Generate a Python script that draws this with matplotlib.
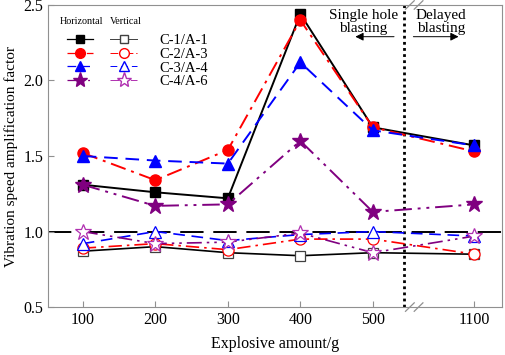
import numpy as np
import matplotlib
matplotlib.use("Agg")
import matplotlib.pyplot as plt
from matplotlib.lines import Line2D

plt.rcParams['font.family'] = ['Liberation Serif', 'DejaVu Serif']

amounts = ['100', '200', '300', '400', '500', '1100']
xpos = np.array([0, 1, 2, 3, 4, 5.4])   # 1100 sits past the axis break
x_break = 4.43

names = ['C-1/A-1', 'C-2/A-3', 'C-3/A-4', 'C-4/A-6']

# horizontal (filled markers)
h_c1 = [1.31, 1.26, 1.22, 2.44, 1.69, 1.57]
h_c2 = [1.52, 1.34, 1.54, 2.40, 1.69, 1.53]
h_c3 = [1.50, 1.47, 1.45, 2.12, 1.67, 1.57]
h_c4 = [1.31, 1.17, 1.18, 1.60, 1.13, 1.18]
# vertical (open markers)
v_c1 = [0.87, 0.90, 0.86, 0.84, 0.86, 0.85]
v_c2 = [0.89, 0.92, 0.88, 0.95, 0.95, 0.85]
v_c3 = [0.92, 1.00, 0.94, 0.98, 1.00, 0.97]
v_c4 = [1.00, 0.92, 0.93, 0.99, 0.86, 0.97]

colors = ['black', 'red', 'blue', '#800080']
open_colors = ['#404040', 'red', 'blue', '#b030b0']
styles = ['-', (0, (8, 3, 1.5, 3)), (0, (7, 4)), (0, (9, 3, 1.5, 3, 1.5, 3))]
markers = ['s', 'o', '^', '*']
msize = [7, 8, 8, 12]

fig = plt.figure(figsize=(5.05, 3.55), dpi=100)
ax = fig.add_axes([0.095, 0.135, 0.899, 0.851])

# reference line at 1.0
ax.axhline(1.0, xmax=1.01, color='black', lw=1.4, ls=(0, (12, 5)), zorder=1, clip_on=False)

h_handles = []
v_handles = []
for i, (hv, vv) in enumerate(zip([h_c1, h_c2, h_c3, h_c4], [v_c1, v_c2, v_c3, v_c4])):
    ax.plot(xpos, vv, color=colors[i], ls=styles[i], lw=1.2, marker=markers[i],
            ms=msize[i], mfc='white', mec=open_colors[i], mew=0.9, zorder=3)
    ax.plot(xpos, hv, color=colors[i], ls=styles[i], lw=1.4, marker=markers[i],
            ms=msize[i], mfc=colors[i], mec=colors[i], zorder=4)
    h_handles.append(Line2D([], [], color=colors[i], ls=styles[i], lw=0.9,
                            marker=markers[i], ms=msize[i] - 1, mfc=colors[i], mec=colors[i]))
    v_handles.append(Line2D([], [], color=open_colors[i], ls=styles[i], lw=0.7,
                            marker=markers[i], ms=msize[i] - 1, mfc='white', mec=open_colors[i]))

# dotted divider at the break
ax.axvline(x_break, color='black', lw=2, ls=(0, (1, 1.2)), zorder=2)

ax.set_xlim(-0.48, 5.78)
ax.set_ylim(0.5, 2.5)
ax.set_xticks(xpos)
ax.set_xticklabels(amounts)
ax.set_yticks([0.5, 1.0, 1.5, 2.0, 2.5])
ax.set_yticklabels(['0.5', '1.0', '1.5', '2.0', '2.5'])
ax.tick_params(direction='in', length=4, color='#909090', labelsize=11.5, top=False, right=False)
for s in ax.spines.values():
    s.set_color('#909090')
ax.set_xlabel('Explosive amount/g', fontsize=11.5, labelpad=6)
ax.set_ylabel('Vibration speed amplification factor', fontsize=11, labelpad=4)

# break marks on top and bottom spines
for yb in (0, 1):
    for dx in (0.0, 0.12):
        ax.plot([x_break + 0.02 + dx, x_break + 0.14 + dx], [yb - 0.014, yb + 0.014],
                transform=ax.get_xaxis_transform(), color='#909090', lw=0.9,
                clip_on=False, zorder=5)

# annotations
ax.text(3.87, 2.39, 'Single hole\nblasting', ha='center', va='center', fontsize=11, linespacing=1.0)
ax.text(4.94, 2.39, 'Delayed\nblasting', ha='center', va='center', fontsize=11, linespacing=1.0)
ax.annotate('', xy=(3.72, 2.29), xytext=(4.33, 2.29),
            arrowprops=dict(arrowstyle='-|>', color='black', lw=0.7, mutation_scale=12))
ax.annotate('', xy=(5.22, 2.29), xytext=(4.52, 2.29),
            arrowprops=dict(arrowstyle='-|>', color='black', lw=0.7, mutation_scale=12))

# legend: two marker columns, labels on the right
handles = h_handles + v_handles
labels = [''] * 4 + names
leg = ax.legend(handles, labels, ncol=2, loc='upper left', bbox_to_anchor=(0.028, 0.925),
                frameon=False, fontsize=10.5, handlelength=1.85, handletextpad=1.5,
                columnspacing=-0.35, labelspacing=0.05, borderaxespad=0)
ax.text(0.025, 0.93, 'Horizontal', transform=ax.transAxes, fontsize=7.3, va='bottom')
ax.text(0.137, 0.93, 'Vertical', transform=ax.transAxes, fontsize=7.3, va='bottom')

fig.savefig('out.png', dpi=100)
